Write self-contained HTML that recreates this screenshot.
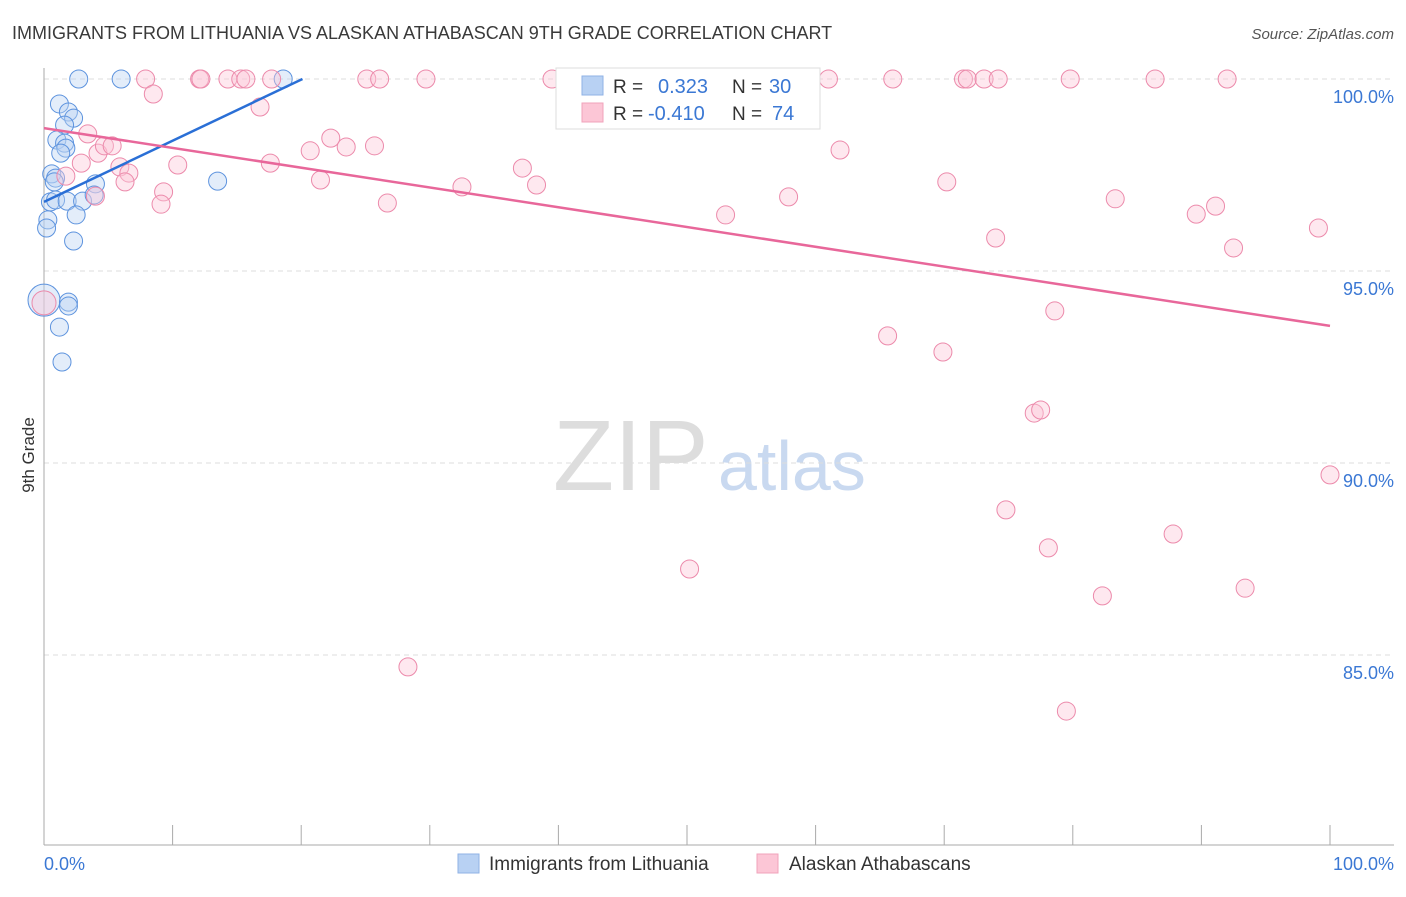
<!DOCTYPE html>
<html><head><meta charset="utf-8"><style>
body{margin:0;background:#fff;font-family:"Liberation Sans",sans-serif}
svg text{font-family:"Liberation Sans",sans-serif}
</style></head><body>
<svg id="chart" width="1406" height="892" xmlns="http://www.w3.org/2000/svg">
<text x="12" y="39" font-size="18" fill="#3a3a3a">IMMIGRANTS FROM LITHUANIA VS ALASKAN ATHABASCAN 9TH GRADE CORRELATION CHART</text>
<text x="1394" y="39" font-size="15" fill="#555" text-anchor="end" font-style="italic">Source: ZipAtlas.com</text>
<text x="553" y="490" font-size="100" fill="#ddd" font-family="Liberation Serif">ZIP</text>
<text x="718" y="490" font-size="70" fill="#c9d9f0">atlas</text>
<text transform="translate(34,455) rotate(-90)" font-size="17" fill="#333" text-anchor="middle">9th Grade</text>
<g id="grid"></g><g id="axes"></g><g id="pts"></g><g id="lines"></g>
<g>
<rect x="556" y="68" width="264" height="61" fill="#fff" stroke="#ddd"/>
<rect x="582" y="76" width="21" height="19" fill="#b8d1f3" stroke="#8fb2e6"/>
<rect x="582" y="103" width="21" height="19" fill="#fcc6d6" stroke="#f0a3bb"/>
<text x="613" y="93" font-size="19" fill="#333">R =</text>
<text x="658" y="93" font-size="20" fill="#3b78d4">0.323</text>
<text x="732" y="93" font-size="19" fill="#333">N =</text>
<text x="769" y="93" font-size="20" fill="#3b78d4">30</text>
<text x="613" y="120" font-size="19" fill="#333">R =</text>
<text x="648" y="120" font-size="20" fill="#3b78d4">-0.410</text>
<text x="732" y="120" font-size="19" fill="#333">N =</text>
<text x="772" y="120" font-size="20" fill="#3b78d4">74</text>
</g>
<g>
<rect x="458" y="854" width="21" height="19" fill="#b8d1f3" stroke="#8fb2e6"/>
<text x="489" y="870" font-size="19" fill="#333">Immigrants from Lithuania</text>
<rect x="757" y="854" width="21" height="19" fill="#fcc6d6" stroke="#f0a3bb"/>
<text x="789" y="870" font-size="19" fill="#333">Alaskan Athabascans</text>
</g>
<text x="44" y="870" font-size="18" fill="#3b78d4">0.0%</text>
<text x="1394" y="870" font-size="18" fill="#3b78d4" text-anchor="end">100.0%</text>
</svg>
<script>
const yTicks=[100,95,90,85];
const yTickLabels=["100.0%","95.0%","90.0%","85.0%"];
const blueX=[2.7,6.0,18.6,1.2,1.9,2.3,1.6,1.0,1.6,1.7,1.3,0.6,0.9,0.8,0.5,0.9,1.8,4.0,3.0,2.5,0.3,0.2,2.3,13.5,0,1.9,1.9,1.2,1.4,3.9];
const blueY=[100,100,100,99.35,99.14,98.98,98.8,98.41,98.33,98.2,98.07,97.53,97.42,97.32,96.8,96.85,96.82,97.27,96.82,96.46,96.33,96.12,95.78,97.34,94.24,94.19,94.09,93.54,92.63,96.98];
const pinkX=[7.9,12.1,12.2,14.3,15.3,15.7,17.7,25.1,26.1,29.7,39.5,41.3,61.0,66.0,71.5,71.8,73.1,74.2,79.8,86.4,92.0,8.5,3.4,16.8,4.2,4.7,5.3,2.9,5.9,6.6,6.3,1.7,10.4,9.3,9.1,4.0,17.6,20.7,22.3,23.5,25.7,21.5,26.7,32.5,37.2,38.3,53.0,57.9,61.9,70.2,74.0,83.3,89.6,91.1,92.5,99.1,65.6,69.9,78.6,77.0,77.5,100,74.8,78.1,87.8,50.2,82.3,93.4,28.3,79.5,0];
const pinkY=[100,100,100,100,100,100,100,100,100,100,100,100,100,100,100,100,100,100,100,100,100,99.61,98.57,99.27,98.07,98.26,98.26,97.81,97.71,97.55,97.32,97.47,97.76,97.06,96.74,96.95,97.81,98.13,98.46,98.23,98.26,97.37,96.77,97.19,97.68,97.24,96.46,96.93,98.15,97.32,95.86,96.88,96.48,96.69,95.6,96.12,93.31,92.89,93.96,91.3,91.38,89.69,88.78,87.79,88.15,87.24,86.54,86.74,84.69,83.54,94.17];
const blueTrend=[[0,96.8],[20.1,100]];
const pinkTrend=[[0,98.72],[100,93.57]];
const NS="http://www.w3.org/2000/svg";
const X=v=>44+v*12.86, Y=v=>79+(100-v)*38.4;
function mk(t,a,p){const e=document.createElementNS(NS,t);for(const k in a)e.setAttribute(k,a[k]);document.getElementById(p).appendChild(e);return e;}
yTicks.forEach((t,i)=>{
 const l=mk('line',{x1:44,x2:1394,y1:Y(t),y2:Y(t),stroke:'#ddd','stroke-dasharray':'5,4'},'grid');
 
 
 const tx=mk('text',{x:1394,y:Y(t)+24,'font-size':18,fill:'#3b78d4','text-anchor':'end'},'grid');
 tx.textContent=yTickLabels[i];
 
 
});
const ax=mk('line',{x1:44,x2:44,y1:68,y2:845,stroke:'#aaa'},'axes');


const bx=mk('line',{x1:44,x2:1394,y1:845,y2:845,stroke:'#aaa'},'axes');


for(let i=0;i<=10;i++){const t=mk('line',{x1:X(i*10),x2:X(i*10),y1:825,y2:845,stroke:'#aaa'},'axes');
 
 }
function pt(x,y,r,f,s,name){const c=mk('circle',{cx:X(x),cy:Y(y),r:r,fill:f,'fill-opacity':0.4,stroke:s,'stroke-width':1},'pts');
 
 }
blueX.forEach((x,i)=>pt(x,blueY[i],x===0?16:9,'#b8d1f3','#5d93de','point-lithuania'));
pinkX.forEach((x,i)=>pt(x,pinkY[i],x===0?12:9,'#fcc6d6','#ec8aab','point-athabascan'));
const bl=mk('line',{x1:X(blueTrend[0][0]),y1:Y(blueTrend[0][1]),x2:X(blueTrend[1][0]),y2:Y(blueTrend[1][1]),stroke:'#2a6fd6','stroke-width':2.5},'lines');


const pl=mk('line',{x1:X(pinkTrend[0][0]),y1:Y(pinkTrend[0][1]),x2:X(pinkTrend[1][0]),y2:Y(pinkTrend[1][1]),stroke:'#e8679a','stroke-width':2.5},'lines');


</script>
</body></html>
